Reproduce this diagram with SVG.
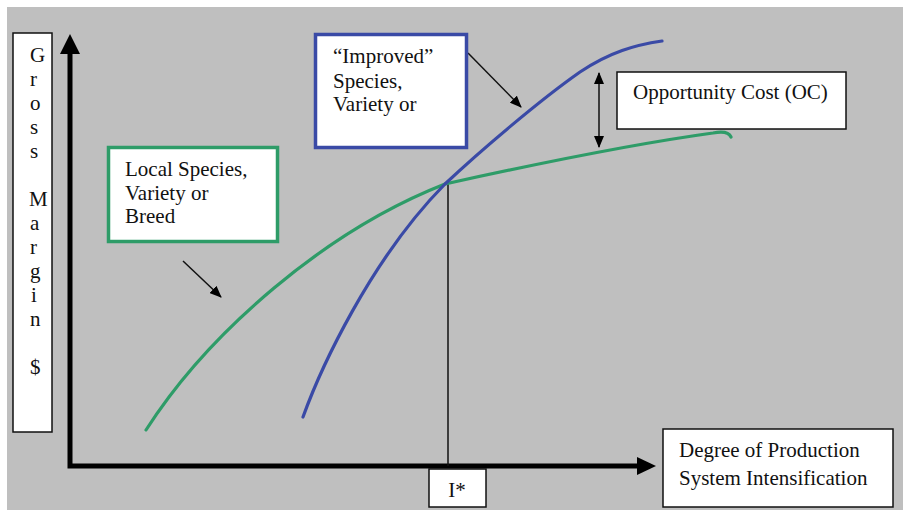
<svg xmlns="http://www.w3.org/2000/svg" width="905" height="510" viewBox="0 0 905 510">
<style>
text{font-family:"Liberation Serif","Times New Roman",serif;font-size:21px;fill:#111}
.box{fill:#fff;stroke:#111;stroke-width:1.5}
.thin{stroke:#111;stroke-width:1.5;fill:none}
.axis{stroke:#000;stroke-width:5;fill:none}
.curve{fill:none;stroke-width:3.2;stroke-linecap:round}
</style>
<defs>
<marker id="ah" viewBox="0 0 12 10" refX="11" refY="5" markerWidth="12" markerHeight="10" markerUnits="userSpaceOnUse" orient="auto-start-reverse">
<path d="M0,0 L12,5 L0,10 Z" fill="#000"/>
</marker>
</defs>
<rect x="7" y="7" width="896" height="503" fill="#bfbfbf"/>

<g id="connectors">
<path class="axis" d="M70,54 V466 H638"/>
<polygon points="70,34 60,54 80,54" fill="#000"/>
<polygon points="656,466 637,457 637,475" fill="#000"/>
<line class="thin" x1="448" y1="184" x2="448" y2="466"/>
<line class="thin" x1="468" y1="53" x2="521" y2="107" marker-end="url(#ah)"/>
<line class="thin" x1="183" y1="261" x2="221" y2="297" marker-end="url(#ah)"/>
<line class="thin" x1="599" y1="73" x2="599" y2="147" marker-start="url(#ah)" marker-end="url(#ah)"/>
</g>

<g id="local-curve">
<path class="curve" stroke="#2e9c68" d="M146,430 C208,333 325,231 445,184 C540,163 640,143 713,133 Q728,130 731,137"/>
</g>
<g id="improved-curve">
<path class="curve" stroke="#3a4aa6" d="M303,417 C320,370 370,260 445,184 C480,151 540,100 580,72 C610,52 635,45 662,41"/>
</g>

<g id="y-label">
<rect class="box" x="13" y="33" width="39" height="399"/>
<text x="30" y="62">G</text>
<text x="30" y="86">r</text>
<text x="30" y="110">o</text>
<text x="30" y="134">s</text>
<text x="30" y="158">s</text>
<text x="29" y="206">M</text>
<text x="30" y="230">a</text>
<text x="30" y="254">r</text>
<text x="30" y="278">g</text>
<text x="31" y="302">i</text>
<text x="30" y="326">n</text>
<text x="30" y="374">$</text>
</g>

<g id="improved-label">
<rect x="315.5" y="34.5" width="151" height="113" fill="#fff" stroke="#3a4aa6" stroke-width="3.5"/>
<text x="333" y="63">“Improved”</text>
<text x="333" y="88">Species,</text>
<text x="333" y="111">Variety or</text>
</g>

<g id="local-label">
<rect x="108.5" y="147.5" width="169" height="94" fill="#fff" stroke="#2e9c68" stroke-width="3.5"/>
<text x="125" y="176">Local Species,</text>
<text x="125" y="200">Variety or</text>
<text x="125" y="223">Breed</text>
</g>

<g id="oc-label">
<rect class="box" x="617" y="72" width="229" height="57"/>
<text x="633" y="99">Opportunity Cost (OC)</text>
</g>

<g id="x-label">
<rect class="box" x="663" y="429" width="230" height="78"/>
<text x="679" y="457">Degree of Production</text>
<text x="679" y="485">System Intensification</text>
</g>

<g id="istar">
<rect class="box" x="429" y="469" width="57" height="38"/>
<text x="457" y="497" text-anchor="middle">I*</text>
</g>
</svg>
